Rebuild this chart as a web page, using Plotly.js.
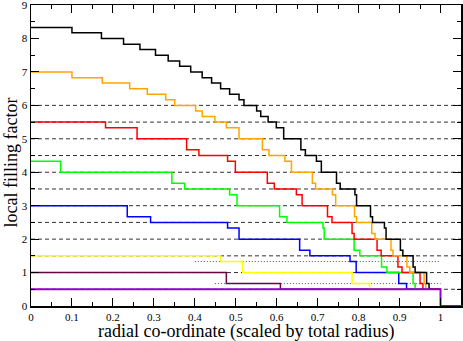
<!DOCTYPE html>
<html>
<head>
<meta charset="utf-8">
<script src="https://cdn.plot.ly/plotly-3.0.1.min.js"></script>
<style>
  body { margin: 0; background: #fff; }
  #plot { width: 463px; height: 341px; }
</style>
</head>
<body>
<div id="plot"></div>
<script>
// step edges (x where the value changes) and values for each profile
var blackX = [0, 0.100, 0.172, 0.226, 0.266, 0.304, 0.335, 0.363, 0.390, 0.418, 0.441, 0.463, 0.485,
  0.508, 0.520, 0.551, 0.561, 0.579, 0.599, 0.617, 0.659, 0.670, 0.697, 0.709, 0.746, 0.755, 0.791,
  0.795, 0.829, 0.834, 0.863, 0.867, 0.902, 0.908, 0.933, 0.938, 0.966, 0.972, 1.0];
var blackY = [8.33, 8.17, 8.0, 7.83, 7.67, 7.5, 7.33, 7.17, 7.0, 6.83, 6.67, 6.5, 6.33,
  6.17, 6.0, 5.83, 5.67, 5.5, 5.33, 5.0, 4.67, 4.5, 4.33, 4.0, 3.67, 3.5, 3.33,
  3.0, 2.67, 2.5, 2.33, 2.0, 1.67, 1.5, 1.17, 1.0, 0.67, 0.5, 0.5];

var orangeX = [0, 0.100, 0.174, 0.241, 0.284, 0.329, 0.351, 0.402, 0.418, 0.449, 0.477, 0.508,
  0.565, 0.581, 0.620, 0.636, 0.687, 0.695, 0.736, 0.744, 0.790, 0.795, 0.832, 0.840, 0.879,
  0.884, 0.918, 0.925, 0.960, 0.964, 1.0];
var orangeY = [7.0, 6.83, 6.67, 6.5, 6.33, 6.17, 6.0, 5.83, 5.67, 5.5, 5.33, 5.0,
  4.67, 4.5, 4.33, 4.0, 3.67, 3.5, 3.33, 3.0, 2.67, 2.5, 2.17, 2.0, 1.67,
  1.5, 1.17, 1.0, 0.67, 0.5, 0.5];

var redX = [0, 0.182, 0.259, 0.380, 0.410, 0.480, 0.499, 0.577, 0.594, 0.648, 0.662, 0.724,
  0.735, 0.784, 0.789, 0.845, 0.855, 0.896, 0.906, 0.950, 0.957, 1.0];
var redY = [5.5, 5.33, 5.0, 4.67, 4.5, 4.33, 4.0, 3.67, 3.5, 3.33, 3.0, 2.67,
  2.5, 2.17, 2.0, 1.67, 1.5, 1.17, 1.0, 0.67, 0.5, 0.5];

var greenX = [0, 0.0725, 0.344, 0.375, 0.485, 0.503, 0.607, 0.625, 0.713, 0.716, 0.789, 0.803,
  0.856, 0.869, 0.933, 0.938, 1.0];
var greenY = [4.33, 4.0, 3.67, 3.5, 3.33, 3.0, 2.67, 2.5, 2.33, 2.0, 1.67, 1.5,
  1.17, 1.0, 0.67, 0.5, 0.5];

var blueX = [0, 0.235, 0.292, 0.480, 0.508, 0.656, 0.681, 0.779, 0.794, 0.898, 0.917, 1.0];
var blueY = [3.0, 2.67, 2.5, 2.33, 2.0, 1.67, 1.5, 1.33, 1.0, 0.67, 0.5, 0.5];

var yellowX = [0, 0.463, 0.517, 0.784, 0.827, 1.0];
var yellowY = [1.5, 1.33, 1.0, 0.67, 0.5, 0.5];

var maroonX = [0, 0.477, 0.609, 1.0];
var maroonY = [1.0, 0.67, 0.5, 0.5];

var violetX = [0, 1.0, 1.05];
var violetY = [0.5, 0, 0];

// dashed reference levels and the two dotted guides
var refLevels = [0.5, 1, 1.5, 2, 2.5, 3, 3.5, 4, 4.5, 5, 5.5, 6];
var dotLevels = [1.33, 0.67];
var dotStart = [0.40, 0.449];
var dotEnd = [1.0, 1.0];

var xTicks = [0, 0.1, 0.2, 0.3, 0.4, 0.5, 0.6, 0.7, 0.8, 0.9, 1];
var xTickText = ['0', '0.1', '0.2', '0.3', '0.4', '0.5', '0.6', '0.7', '0.8', '0.9', '1'];
var yTicks = [0, 1, 2, 3, 4, 5, 6, 7, 8, 9];

var xRange = [0, 1.05];
var yRange = [0, 9.002];

function step(x, y, color, w) {
  return {
    x: x, y: y, mode: 'lines', type: 'scatter',
    line: {shape: 'hv', color: color, width: w},
    hoverinfo: 'skip', showlegend: false
  };
}

function guide(x, y, color, dash) {
  return {
    x: x, y: y, mode: 'lines', type: 'scatter',
    line: {color: color, width: 1, dash: dash},
    hoverinfo: 'skip', showlegend: false
  };
}

var data = [];
refLevels.forEach(function(l) {
  data.push(guide(xRange, [l, l], '#333', '4px,3px'));
});
dotLevels.forEach(function(l, i) {
  data.push(guide([dotStart[i], dotEnd[i]], [l, l], '#555', '1px,2px'));
});
data.push(
  step(maroonX, maroonY, '#670748', 1.5),
  step(yellowX, yellowY, '#ffff00', 1.5),
  step(blueX, blueY, '#0000ff', 1.5),
  step(greenX, greenY, '#00ff00', 1.5),
  step(redX, redY, '#ff0000', 1.5),
  step(orangeX, orangeY, '#ffa500', 1.5),
  step(blackX, blackY, '#000000', 1.5),
  step(violetX, violetY, '#9400d3', 2),
  // empty trace so the overlay axes (used for the short minor ticks) get drawn
  {x: [], y: [], xaxis: 'x2', yaxis: 'y2', type: 'scatter', mode: 'lines', showlegend: false}
);

var serif = 'Liberation Serif, Times New Roman, serif';

var layout = {
  width: 463, height: 341,
  margin: {l: 31, r: 2, t: 5, b: 35},
  font: {family: serif, size: 11, color: '#000'},
  // axis titles as annotations so they sit where the original puts them
  annotations: [{
    text: 'radial co-ordinate (scaled by total radius)',
    xref: 'paper', yref: 'paper', x: 0.5, y: 0,
    xanchor: 'center', yanchor: 'top', yshift: -13,
    showarrow: false, font: {family: serif, size: 18, color: '#000'}
  }, {
    text: 'local filling factor', textangle: -90,
    xref: 'paper', yref: 'paper', x: 0, y: 0.5,
    xanchor: 'center', yanchor: 'middle', xshift: -21, yshift: -7,
    showarrow: false, font: {family: serif, size: 18, color: '#000'}
  }],
  xaxis: {
    range: xRange, autorange: false,
    tickvals: xTicks, ticktext: xTickText,
    ticks: 'inside', ticklen: 8, tickwidth: 1, tickcolor: '#000',
    showline: true, linewidth: 1.5, linecolor: '#000', mirror: 'ticks',
    showgrid: false, zeroline: false, ticklabeloverflow: 'allow'
  },
  yaxis: {
    range: yRange, autorange: false, tickvals: yTicks,
    ticks: 'inside', ticklen: 8, tickwidth: 1, tickcolor: '#000',
    showline: true, linewidth: 1.5, linecolor: '#000', mirror: 'ticks',
    showgrid: false, zeroline: false, ticklabeloverflow: 'allow'
  },
  xaxis2: {
    overlaying: 'x', anchor: 'y2', range: xRange, autorange: false,
    tick0: 0, dtick: 0.05, ticks: 'inside', ticklen: 4, tickwidth: 1, tickcolor: '#000',
    showticklabels: false, showline: true, linewidth: 1.5, linecolor: '#000', mirror: 'ticks',
    showgrid: false, zeroline: false
  },
  yaxis2: {
    overlaying: 'y', anchor: 'x2', range: yRange, autorange: false,
    tick0: 0, dtick: 0.5, ticks: 'inside', ticklen: 4, tickwidth: 1, tickcolor: '#000',
    showticklabels: false, showline: true, linewidth: 1.5, linecolor: '#000', mirror: 'ticks',
    showgrid: false, zeroline: false
  }
};

Plotly.newPlot('plot', data, layout, {staticPlot: true, displayModeBar: false});
</script>
</body>
</html>
